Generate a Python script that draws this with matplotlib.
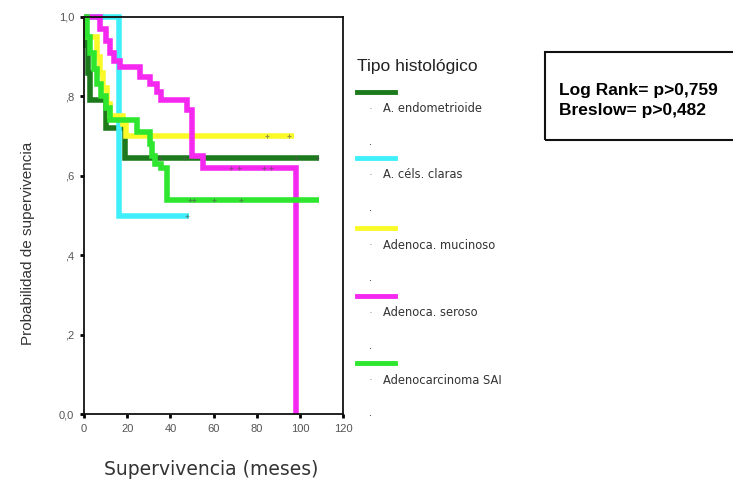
import matplotlib
matplotlib.use("Agg")
import matplotlib.pyplot as plt
from matplotlib.lines import Line2D
from matplotlib.patches import Rectangle

plt.rcParams['font.family'] = ['Liberation Sans', 'DejaVu Sans']

# curvas de Kaplan-Meier por tipo histologico (tiempo en meses, supervivencia acumulada)
grupos = ["A. endometrioide", "A. céls. claras", "Adenoca. mucinoso",
          "Adenoca. seroso", "Adenocarcinoma SAI"]
colores = ["#1c7a1c", "#3ff0fa", "#fafa28", "#f528f0", "#2ee62e"]

t_endometrioide = [0, 1, 2, 3, 10, 19, 109]
s_endometrioide = [1.0, 0.93, 0.86, 0.79, 0.72, 0.645, 0.645]

t_claras = [0, 16, 48.5]
s_claras = [1.0, 0.50, 0.50]

t_mucinoso = [0, 1, 6, 7.5, 9, 10.5, 12, 18, 19.5, 97]
s_mucinoso = [1.0, 0.95, 0.90, 0.86, 0.82, 0.78, 0.75, 0.73, 0.70, 0.70]

t_seroso = [0, 7.5, 10, 12, 14, 16.7, 26, 30.5, 33.8, 35.5, 47.7, 50, 55, 98]
s_seroso = [1.0, 0.97, 0.94, 0.91, 0.89, 0.875, 0.85, 0.83, 0.81, 0.79,
            0.765, 0.65, 0.62, 0.0]

t_sai = [0, 1.5, 3, 4.5, 6, 8, 10, 12, 24.5, 30.7, 31.5, 33, 35.5, 38.5, 109]
s_sai = [1.0, 0.95, 0.91, 0.87, 0.83, 0.80, 0.77, 0.74, 0.71, 0.68, 0.65,
         0.63, 0.62, 0.54, 0.54]

# casos censurados
c_endometrioide = [35.3, 46.2, 98.1, 108]
c_claras = [47.7]
c_mucinoso = [84.9, 95]
c_seroso = [67.9, 71.8, 83.4, 86.5]
c_sai = [49.3, 50.9, 60.1, 72.5]

tiempos = [t_endometrioide, t_claras, t_mucinoso, t_seroso, t_sai]
superv = [s_endometrioide, s_claras, s_mucinoso, s_seroso, s_sai]
censurados = [c_endometrioide, c_claras, c_mucinoso, c_seroso, c_sai]

xticks = [0, 20, 40, 60, 80, 100, 120]
yticks = [0.0, 0.2, 0.4, 0.6, 0.8, 1.0]
yticklabels = ["0,0", ",2", ",4", ",6", ",8", "1,0"]


def valor_en(t, s, x):
    v = s[0]
    for ti, si in zip(t, s):
        if ti <= x:
            v = si
    return v


fig = plt.figure(figsize=(7.33, 4.84), dpi=100)
ax = fig.add_axes([0.1146, 0.1446, 0.3536, 0.8203])

for t, s, c, cens in zip(tiempos, superv, colores, censurados):
    ax.step(t, s, where='post', color=c, lw=4, solid_capstyle='butt',
            solid_joinstyle='miter', clip_on=False)
    ys = [valor_en(t, s, x) for x in cens]
    ax.plot(cens, ys, ls='none', marker='+', ms=3, mew=0.8,
            color='#555555', alpha=0.6, clip_on=False)

ax.set_xlim(0, 120)
ax.set_ylim(0, 1.0)
ax.set_xticks(xticks)
ax.set_xticklabels([str(x) for x in xticks])
ax.set_yticks(yticks)
ax.set_yticklabels(yticklabels)
ax.tick_params(direction='out', length=3, width=2, labelsize=8,
               labelcolor='#555555', pad=4)
for sp in ax.spines.values():
    sp.set_linewidth(1.3)
    sp.set_color('#111111')

ax.set_xlabel("Supervivencia (meses)", fontsize=13.5, color='#333333',
              family=['DejaVu Sans'])
ax.xaxis.set_label_coords(0.49, -0.115)
ax.set_ylabel("Probabilidad de supervivencia", fontsize=11, color='#333333')
ax.yaxis.set_label_coords(-0.19, 0.43)

# leyenda: linea de color con la etiqueta debajo
fig.text(357 / 733, 1 - 67 / 484, "Tipo histológico", fontsize=12.5,
         color='#222222', va='center', ha='left')
y_linea = [92, 158, 228, 296, 363]
for nombre, c, yl in zip(grupos, colores, y_linea):
    fy = 1 - yl / 484
    fig.add_artist(Line2D([357 / 733, 395 / 733], [fy, fy], color=c, lw=3.5,
                          transform=fig.transFigure))
    fig.text(383 / 733, 1 - (yl + 17) / 484, nombre, fontsize=8.3,
             color='#333333', va='center', ha='left', family=['DejaVu Sans'])
    fig.text(369 / 733, 1 - (yl + 17) / 484, "·", fontsize=8,
             color='#777777', va='center', ha='left')
    fig.text(369 / 733, 1 - (yl + 50) / 484, ".", fontsize=8,
             color='#222222', va='center', ha='left')

# recuadro con las pruebas de comparacion
fig.add_artist(Rectangle((545 / 733, 1 - 140 / 484), 195 / 733, 88 / 484,
                         transform=fig.transFigure, fill=False,
                         edgecolor='#111111', lw=1.5, clip_on=False))
fig.text(559 / 733, 1 - 91 / 484, "Log Rank= p>0,759", fontsize=12.5,
         fontweight='bold', color='black', va='center', ha='left')
fig.text(559 / 733, 1 - 111 / 484, "Breslow= p>0,482", fontsize=12.5,
         fontweight='bold', color='black', va='center', ha='left')

fig.savefig("out.png", dpi=100)
